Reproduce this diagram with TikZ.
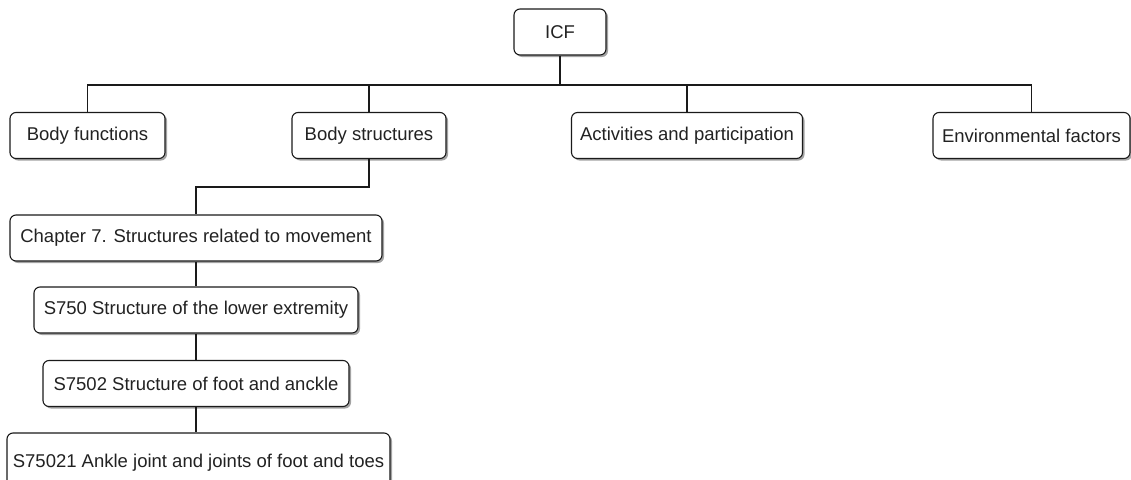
\documentclass[tikz,border=0pt]{standalone}
\usepackage{fontspec}
\setmainfont{Liberation Sans}
\usetikzlibrary{shadows}
\definecolor{txt}{HTML}{222222}
\definecolor{ln}{HTML}{1A1A1A}
\tikzset{
  box/.style={draw=ln, line width=1.1pt, rounded corners=6pt, fill=white,
    inner sep=0pt, minimum height=46pt, text=txt,
    font=\fontsize{18.5}{21}\selectfont,
    drop shadow={shadow xshift=2pt, shadow yshift=-2pt, fill=black!45, opacity=0.8}},
  conn/.style={draw=ln, line width=1.3pt}
}
\begin{document}
\begin{tikzpicture}[x=1pt, y=-1pt]
\useasboundingbox (0,0) rectangle (1131,479);
\clip (0,0) rectangle (1131,479);
% nodes
\node[box, minimum width=92pt] (icf) at (560,32) {ICF};
\node[box, minimum width=155pt] (bf) at (87.5,135.5) {Body functions};
\node[box, minimum width=154pt] (bs) at (369,135.5) {Body structures};
\node[box, minimum width=231pt] (ap) at (687,135.5) {Activities and participation};
\node[box, minimum width=197pt] (ef) at (1031.5,135.5) {Environmental factors};
\node[box, minimum width=372pt] (ch7) at (196,238) {Chapter 7. Structures related to movement};
\node[box, minimum width=324pt] (s750) at (196,310) {S750 Structure of the lower extremity};
\node[box, minimum width=306pt] (s7502) at (196,383.5) {S7502 Structure of foot and anckle};
\node[box, minimum width=383pt, minimum height=56pt, text depth=0pt] (s75021) at (198.5,461) {\raisebox{0pt}{S75021 Ankle joint and joints of foot and toes}};
% connectors
\coordinate (bus) at (560,85);
\coordinate (bus2) at (369,187);
\draw[conn] (icf.south) -- (bus);
\draw[conn] (bf.north) |- (bus);
\draw[conn] (bs.north) |- (bus);
\draw[conn] (ap.north) |- (bus);
\draw[conn] (ef.north) |- (bus);
\draw[conn] (bs.south) -- (bus2) -| (ch7.north);
\draw[conn] (ch7.south) -- (s750.north);
\draw[conn] (s750.south) -- (s7502.north);
\draw[conn] (s7502.south) -- (s7502.south |- s75021.north);
\end{tikzpicture}
\end{document}
